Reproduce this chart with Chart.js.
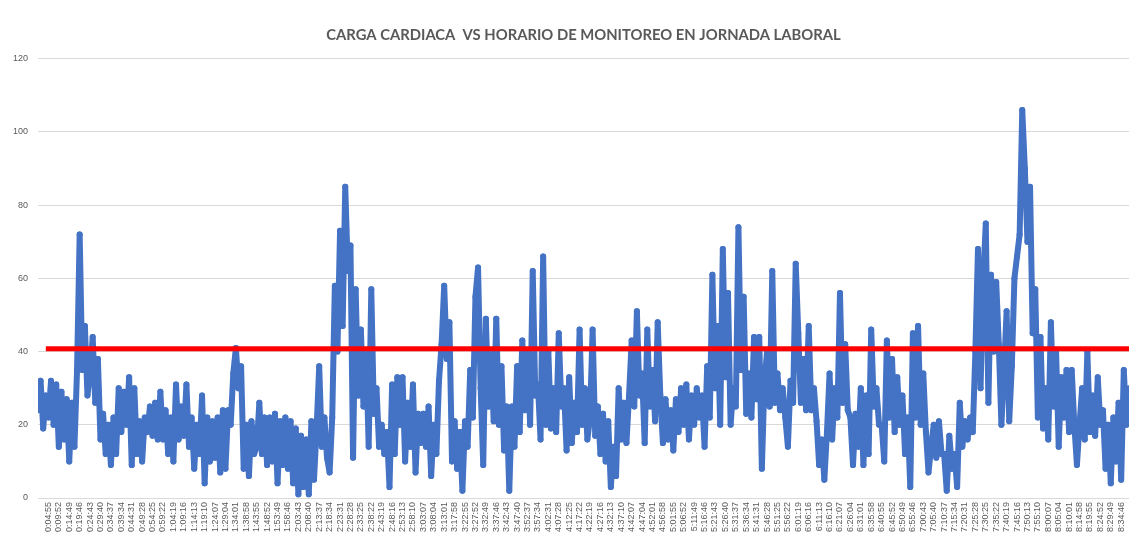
<!DOCTYPE html>
<html>
<head>
<meta charset="utf-8">
<script src="https://cdn.jsdelivr.net/npm/chart.js@4.4.1/dist/chart.umd.min.js"></script>
<style>
  body { margin: 0; background: #fff; }
  canvas { display: block; }
</style>
</head>
<body>
<canvas id="myChart" width="1139" height="534"></canvas>
<script>
// tick labels of the time axis (one every 4 samples)
var timeLabels = [
  '0:04:55','0:09:52','0:14:49','0:19:46','0:24:43','0:29:40','0:34:37','0:39:34','0:44:31','0:49:28','0:54:25','0:59:22',
  '1:04:19','1:09:16','1:14:13','1:19:10','1:24:07','1:29:04','1:34:01','1:38:58','1:43:55','1:48:52','1:53:49','1:58:46',
  '2:03:43','2:08:40','2:13:37','2:18:34','2:23:31','2:28:28','2:33:25','2:38:22','2:43:19','2:48:16','2:53:13','2:58:10',
  '3:03:07','3:08:04','3:13:01','3:17:58','3:22:55','3:27:52','3:32:49','3:37:46','3:42:43','3:47:40','3:52:37','3:57:34',
  '4:02:31','4:07:28','4:12:25','4:17:22','4:22:19','4:27:16','4:32:13','4:37:10','4:42:07','4:47:04','4:52:01','4:56:58',
  '5:01:55','5:06:52','5:11:49','5:16:46','5:21:43','5:26:40','5:31:37','5:36:34','5:41:31','5:46:28','5:51:25','5:56:22',
  '6:01:19','6:06:16','6:11:13','6:16:10','6:21:07','6:26:04','6:31:01','6:35:58','6:40:55','6:45:52','6:50:49','6:55:46',
  '7:00:43','7:05:40','7:10:37','7:15:34','7:20:31','7:25:28','7:30:25','7:35:22','7:40:19','7:45:16','7:50:13','7:55:10',
  '8:00:07','8:05:04','8:10:01','8:14:58','8:19:55','8:24:52','8:29:49','8:34:46'
];
var samplesPerLabel = 4;

// carga cardiaca (4 samples between labels)
var heartRate = [
  24,32,19,28,
  22,32,20,31, 14,29,16,27, 10,26,14,35, 72,35,47,28, 34,44,26,38, 16,23,12,20, 9,22,12,30, 18,29,20,33,
  9,30,12,21, 10,22,18,25, 17,26,16,29, 16,24,12,22, 10,31,16,25, 17,31,14,22, 8,20,12,28, 4,22,10,21,
  11,22,7,24, 8,24,20,34, 41,30,36,8, 20,6,21,12, 14,26,12,22, 9,22,10,23, 4,21,9,22, 8,21,4,19,
  1,17,3,16, 1,21,5,19, 36,14,22,11, 7,22,58,40, 73,47,85,62, 69,11,57,28, 46,25,40,14, 57,23,30,14,
  20,12,18,3, 31,12,33,20, 33,10,26,14, 31,7,23,15, 23,14,25,6, 20,12,32,42, 58,38,48,10, 21,8,18,2,
  21,14,35,22, 55,63,30,9, 49,25,40,21, 49,20,36,13, 25,2,25,14, 36,18,43,24, 40,20,62,28, 31,16,66,20,
  40,19,30,18, 45,25,30,13, 33,15,26,18, 46,20,30,16, 22,46,17,25, 12,23,10,21, 3,14,6,30, 16,26,15,28,
  43,25,51,28, 34,15,46,25, 35,21,48,28, 15,27,16,24, 13,27,18,30, 20,31,16,28, 20,30,22,28, 14,36,22,61,
  30,47,20,68, 33,56,20,30, 25,74,35,55, 23,34,22,44, 27,44,8,32, 40,25,62,26, 34,24,30,22, 14,32,26,64,
  45,26,38,24, 47,24,30,21, 9,16,5,18, 34,16,30,22, 56,26,42,24, 22,9,23,14, 30,9,28,12, 46,25,30,20,
  20,10,43,22, 38,18,33,20, 28,12,22,3, 45,22,47,20, 34,18,7,14, 20,11,21,12, 12,2,17,8, 12,3,26,14,
  21,16,22,18, 40,68,30,60, 75,26,61,40, 59,42,20,35, 51,21,36,60, 66,72,106,90, 70,85,45,57, 22,44,19,30,
  16,48,25,40, 14,33,22,35, 18,35,20,9, 20,30,16,40, 18,28,17,33, 20,24,8,20, 4,22,10,26, 5,35,20,30
];

// linea de referencia (promedio)
var refValue = 40.8;
var refStart = 3;

var ctx = document.getElementById('myChart').getContext('2d');
var lastIdx = heartRate.length - 1;

var chart = new Chart(ctx, {
  type: 'line',
  data: {
    datasets: [{
      label: 'Promedio',
      data: [{ x: refStart, y: refValue }, { x: lastIdx, y: refValue }],
      borderColor: '#FF0000',
      borderWidth: 5,
      pointRadius: 0,
      order: 0
    }, {
      label: 'Carga cardiaca',
      data: heartRate.map(function (v, i) { return { x: i, y: v }; }),
      borderColor: '#4472C4',
      backgroundColor: '#4472C4',
      borderWidth: 6,
      borderJoinStyle: 'round',
      pointRadius: 3,
      pointBorderWidth: 0,
      tension: 0,
      order: 1
    }]
  },
  options: {
    responsive: false,
    devicePixelRatio: 1,
    animation: false,
    layout: { padding: { left: 0, right: 10, top: 0, bottom: 0 } },
    plugins: {
      legend: { display: false },
      tooltip: { enabled: false },
      title: {
        display: true,
        fullSize: false, // centred over the plot area like Excel
        text: 'CARGA CARDIACA  VS HORARIO DE MONITOREO EN JORNADA LABORAL',
        color: '#595959',
        font: { family: 'Lato', size: 14.8, weight: 'bold' },
        padding: { top: 26, bottom: 15 }
      }
    },
    scales: {
      x: {
        type: 'linear',
        min: 0,
        max: lastIdx,
        grid: { display: false, drawTicks: false },
        border: { display: false },
        ticks: {
          stepSize: samplesPerLabel,
          autoSkip: false,
          includeBounds: false,
          minRotation: 90,
          maxRotation: 90,
          padding: 4,
          color: '#595959',
          font: { family: 'Liberation Sans', size: 9 },
          callback: function (value) {
            var k = value / samplesPerLabel - 1;
            return timeLabels[k] !== undefined ? timeLabels[k] : '';
          }
        },
        afterFit: function (scale) { scale.height = 36; }
      },
      y: {
        min: 0,
        max: 120,
        grid: { color: '#D9D9D9', drawTicks: false },
        border: { display: false },
        ticks: {
          stepSize: 20,
          padding: 10,
          color: '#595959',
          font: { family: 'Liberation Sans', size: 9 }
        },
        afterFit: function (scale) { scale.width = 38; }
      }
    }
  }
});
</script>
</body>
</html>
